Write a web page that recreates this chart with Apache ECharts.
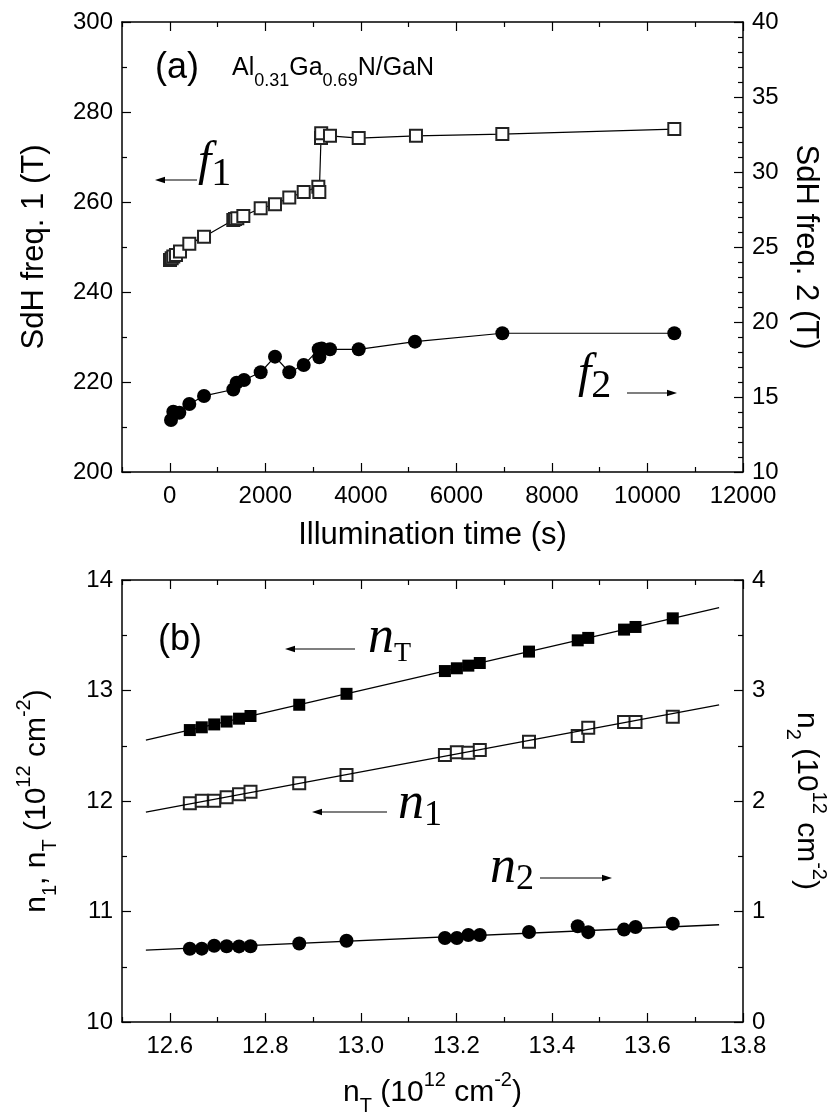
<!DOCTYPE html>
<html>
<head>
<meta charset="utf-8">
<script src="https://cdn.jsdelivr.net/npm/echarts@6/dist/echarts.min.js"></script>
<style>
html,body{margin:0;padding:0;background:#fff;}
#chart{width:833px;height:1119px;}
</style>
</head>
<body>
<div id="chart"></div>
<script>
// ---------- Panel (a) data ----------
const f1Time = [5, 40, 74, 130, 214, 409, 717, 1330, 1365, 1414, 1540, 1903, 2203, 2502, 2804, 3110, 3131, 3166, 3170, 3354, 3955, 5154, 6962, 10562];
const f1Freq = [247.1, 247.5, 247.9, 248.2, 249.0, 250.7, 252.3, 256.0, 256.2, 256.4, 256.9, 258.6, 259.5, 261.0, 262.2, 263.4, 262.2, 274.2, 275.3, 274.7, 274.2, 274.7, 275.1, 276.2];
const f2Time = [26, 74, 200, 409, 717, 1330, 1400, 1554, 1903, 2203, 2502, 2804, 3118, 3131, 3180, 3354, 3955, 5133, 6962, 10562];
const f2Freq = [13.47, 14.02, 13.95, 14.53, 15.07, 15.5, 15.95, 16.13, 16.65, 17.69, 16.65, 17.13, 18.18, 17.65, 18.24, 18.18, 18.18, 18.69, 19.25, 19.25];
const xTicksA = [0, 2000, 4000, 6000, 8000, 10000, 12000];
const xMinorA = [-1000, 1000, 3000, 5000, 7000, 9000, 11000];

// ---------- Panel (b) data ----------
const nTotal = [12.642, 12.667, 12.693, 12.719, 12.745, 12.769, 12.871, 12.970, 13.176, 13.201, 13.225, 13.249, 13.352, 13.454, 13.476, 13.551, 13.575, 13.653];
const n1 = [11.979, 12.003, 12.003, 12.033, 12.061, 12.084, 12.160, 12.235, 12.416, 12.441, 12.437, 12.462, 12.537, 12.588, 12.663, 12.715, 12.715, 12.763];
const n2 = [0.663, 0.664, 0.690, 0.686, 0.684, 0.685, 0.711, 0.735, 0.760, 0.760, 0.788, 0.787, 0.815, 0.866, 0.813, 0.836, 0.860, 0.890];
const fitX = [12.55, 13.75];
const fitNT = [12.55, 13.75];
const fitN1 = [11.90, 12.87];
const fitN2 = [0.65, 0.88];
const xTicksB = [12.6, 12.8, 13.0, 13.2, 13.4, 13.6, 13.8];
const xMinorB = [12.5, 12.7, 12.9, 13.1, 13.3, 13.5, 13.7];

const zip = (a, b) => a.map((v, i) => [v, b[i]]);

const SANS = "'Liberation Sans', Arial, sans-serif";
const SERIF = "'Liberation Serif', 'Times New Roman', serif";
const BLACK = '#000';
const MAJ = 9, MIN = 5;

const labelStyle = { color: BLACK, fontFamily: SANS, fontSize: 24 };
const lineStyle = { color: BLACK, width: 1.5 };

function xMain(grid, min, max, ticks, name, fmt, nameRich) {
  return {
    type: 'value', gridIndex: grid, position: 'bottom', min: min, max: max,
    axisLine: { show: true, onZero: false, lineStyle: lineStyle },
    axisTick: { show: true, inside: true, length: MAJ, customValues: ticks, lineStyle: { color: BLACK, width: 1.2 } },
    axisLabel: Object.assign({ show: true, margin: 12, customValues: ticks, formatter: fmt }, labelStyle),
    splitLine: { show: false },
    name: name, nameLocation: 'middle', nameGap: 48,
    nameTextStyle: { color: BLACK, fontFamily: SANS, fontSize: 31, rich: nameRich }
  };
}
function xAux(grid, min, max, ticks, pos, len, showLine) {
  return {
    type: 'value', gridIndex: grid, position: pos, min: min, max: max,
    axisLine: { show: showLine, onZero: false, lineStyle: lineStyle },
    axisTick: { show: true, inside: true, length: len, customValues: ticks, lineStyle: { color: BLACK, width: 1.2 } },
    axisLabel: { show: false },
    splitLine: { show: false }
  };
}
function yAxis(grid, pos, min, max, interval, minorSplit, name, nameGap, rot, nameRich) {
  return {
    type: 'value', gridIndex: grid, position: pos, min: min, max: max, interval: interval,
    axisLine: { show: true, onZero: false, lineStyle: lineStyle },
    axisTick: { show: true, inside: true, length: MAJ, lineStyle: { color: BLACK, width: 1.2 } },
    minorTick: { show: true, splitNumber: minorSplit, length: MIN, lineStyle: { color: BLACK, width: 1.2 } },
    axisLabel: Object.assign({ show: true, margin: 9 }, labelStyle),
    splitLine: { show: false }, minorSplitLine: { show: false },
    name: name, nameLocation: 'middle', nameGap: nameGap, nameRotate: rot,
    nameTextStyle: { color: BLACK, fontFamily: SANS, fontSize: 31, rich: nameRich }
  };
}

const unitRich = {
  m: { fontFamily: SANS, fontSize: 30, color: BLACK, lineHeight: 46, verticalAlign: 'middle' },
  sup: { fontFamily: SANS, fontSize: 20, color: BLACK, lineHeight: 22, verticalAlign: 'top' },
  sub: { fontFamily: SANS, fontSize: 20, color: BLACK, lineHeight: 22, verticalAlign: 'bottom' }
};

const chart = echarts.init(document.getElementById('chart'), null, { renderer: 'canvas' });

function arrow(x1, y1, x2, y2) {
  const dir = Math.sign(x2 - x1);
  return [
    { type: 'line', shape: { x1: x1, y1: y1, x2: x2 - dir * 6, y2: y2 }, style: { stroke: BLACK, lineWidth: 1.2 }, z: 100 },
    { type: 'polygon', shape: { points: [[x2, y2], [x2 - dir * 10, y2 - 3.2], [x2 - dir * 10, y2 + 3.2]] }, style: { fill: BLACK }, z: 100 }
  ];
}
const mathRich = (bigSize, subSize) => ({
  v: { fontFamily: SERIF, fontStyle: 'italic', fontSize: bigSize, color: BLACK, lineHeight: 56, verticalAlign: 'top' },
  s: { fontFamily: SERIF, fontSize: subSize, color: BLACK, lineHeight: subSize, verticalAlign: 'bottom' }
});

const option = {
  animation: false,
  backgroundColor: '#fff',
  grid: [
    { left: 122, top: 22, width: 621, height: 450, outerBoundsMode: 'none', containLabel: false },
    { left: 122, top: 580, width: 621, height: 442, outerBoundsMode: 'none', containLabel: false }
  ],
  xAxis: [
    xMain(0, -1000, 12000, xTicksA, 'Illumination time (s)', v => String(v), null),
    xAux(0, -1000, 12000, xMinorA, 'bottom', MIN, false),
    xAux(0, -1000, 12000, xTicksA, 'top', MAJ, true),
    xAux(0, -1000, 12000, xMinorA, 'top', MIN, false),
    xMain(1, 12.5, 13.8, xTicksB, '{m|n}{sub|T}{m| (10}{sup|12}{m| cm}{sup|-2}{m|)}', v => v.toFixed(1), unitRich),
    xAux(1, 12.5, 13.8, xMinorB, 'bottom', MIN, false),
    xAux(1, 12.5, 13.8, xTicksB, 'top', MAJ, true),
    xAux(1, 12.5, 13.8, xMinorB, 'top', MIN, false)
  ],
  yAxis: [
    yAxis(0, 'left', 200, 300, 20, 2, 'SdH freq. 1 (T)', 72, 90, null),
    yAxis(0, 'right', 10, 40, 5, 5, 'SdH freq. 2 (T)', 46, -90, null),
    yAxis(1, 'left', 10, 14, 1, 2, '{m|n}{sub|1}{m|, n}{sub|T}{m| (10}{sup|12}{m| cm}{sup|-2}{m|)}', 62, 90, unitRich),
    yAxis(1, 'right', 0, 4, 1, 2, '{m|n}{sub|2}{m| (10}{sup|12}{m| cm}{sup|-2}{m|)}', 40, -90, unitRich)
  ],
  series: [
    { name: 'f1', type: 'line', xAxisIndex: 0, yAxisIndex: 0, data: zip(f1Time, f1Freq),
      symbol: 'emptyRect', symbolSize: 12, showAllSymbol: true,
      lineStyle: { color: BLACK, width: 1.2 }, itemStyle: { color: '#222', borderWidth: 1.2 } },
    { name: 'f2', type: 'line', xAxisIndex: 0, yAxisIndex: 1, data: zip(f2Time, f2Freq),
      symbol: 'circle', symbolSize: 14, showAllSymbol: true,
      lineStyle: { color: BLACK, width: 1.2 }, itemStyle: { color: BLACK } },
    { name: 'fitNT', type: 'line', xAxisIndex: 4, yAxisIndex: 2, data: zip(fitX, fitNT), symbol: 'none',
      lineStyle: { color: BLACK, width: 1.3 } },
    { name: 'fitN1', type: 'line', xAxisIndex: 4, yAxisIndex: 2, data: zip(fitX, fitN1), symbol: 'none',
      lineStyle: { color: BLACK, width: 1.3 } },
    { name: 'fitN2', type: 'line', xAxisIndex: 4, yAxisIndex: 3, data: zip(fitX, fitN2), symbol: 'none',
      lineStyle: { color: BLACK, width: 1.3 } },
    { name: 'nT', type: 'scatter', xAxisIndex: 4, yAxisIndex: 2, data: zip(nTotal, nTotal),
      symbol: 'rect', symbolSize: 12, itemStyle: { color: BLACK, opacity: 1 } },
    { name: 'n1', type: 'scatter', xAxisIndex: 4, yAxisIndex: 2, data: zip(nTotal, n1),
      symbol: 'emptyRect', symbolSize: 12, itemStyle: { color: '#222', borderWidth: 1.2, opacity: 1 } },
    { name: 'n2', type: 'scatter', xAxisIndex: 4, yAxisIndex: 3, data: zip(nTotal, n2),
      symbol: 'circle', symbolSize: 14, itemStyle: { color: BLACK, opacity: 1 } }
  ],
  graphic: [
    { type: 'text', left: 155, top: 50, style: { text: '(a)', fontFamily: SANS, fontSize: 36, fill: BLACK }, z: 100 },
    { type: 'text', left: 232, top: 56, z: 100, style: {
        text: '{a|Al}{s|0.31}{a|Ga}{s|0.69}{a|N/GaN}',
        rich: {
          a: { fontFamily: SANS, fontSize: 25, fill: BLACK, lineHeight: 34, verticalAlign: 'top' },
          s: { fontFamily: SANS, fontSize: 18, fill: BLACK, lineHeight: 24, verticalAlign: 'bottom' }
        } } },
    ...arrow(197, 180, 155, 180),
    { type: 'text', left: 198, top: 138, z: 100, style: { text: '{v|f}{s|1}', rich: mathRich(48, 40) } },
    { type: 'text', left: 578, top: 350, z: 100, style: { text: '{v|f}{s|2}', rich: mathRich(48, 40) } },
    ...arrow(627, 393, 677, 393),
    { type: 'text', left: 158, top: 622, style: { text: '(b)', fontFamily: SANS, fontSize: 36, fill: BLACK }, z: 100 },
    ...arrow(355, 649, 285, 649),
    { type: 'text', left: 368, top: 612, z: 100, style: { text: '{v|n}{s|T}', rich: mathRich(52, 28) } },
    ...arrow(387, 812, 312, 812),
    { type: 'text', left: 398, top: 778, z: 100, style: { text: '{v|n}{s|1}', rich: mathRich(52, 36) } },
    { type: 'text', left: 490, top: 842, z: 100, style: { text: '{v|n}{s|2}', rich: mathRich(52, 36) } },
    ...arrow(540, 878, 612, 878)
  ]
};
chart.setOption(option);
</script>
</body>
</html>
